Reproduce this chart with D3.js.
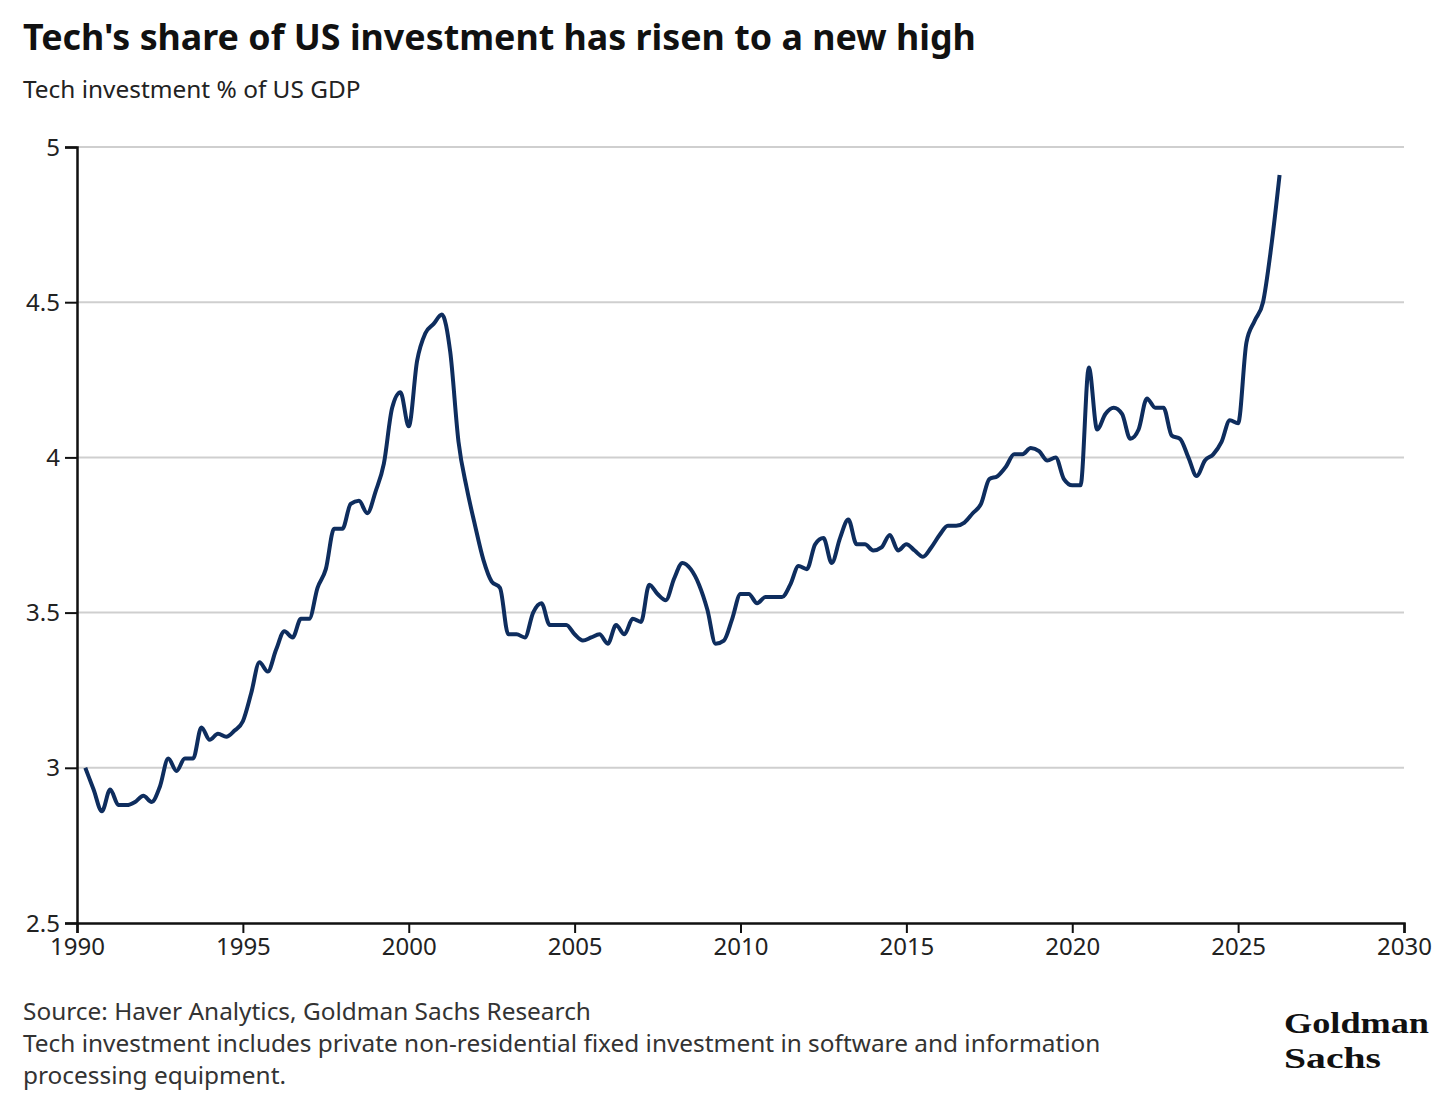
<!DOCTYPE html>
<html>
<head>
<meta charset="utf-8">
<script src="https://cdn.jsdelivr.net/npm/d3@7"></script>
<style>
  html, body { margin: 0; padding: 0; background: #fff; }
  svg text { font-family: "Noto Sans", "Open Sans", sans-serif; }
  .title { font-size: 35.8px; font-weight: 700; fill: #111; }
  .subtitle { font-size: 24.4px; fill: #222; }
  .tick-label { font-size: 24px; fill: #222; }
  .note { font-size: 24.4px; fill: #333; }
  .logo { font-family: "Liberation Serif", "DejaVu Serif", serif; font-size: 29px; font-weight: 700; fill: #111; }
</style>
</head>
<body>
<div id="chart"></div>
<script>
// ---- data (quarterly, first point 1990 Q1) ----
const startYear = 1990;
const techShare = [
  3.00, 2.93, 2.86, 2.93,
  2.88, 2.88, 2.89, 2.91,
  2.89, 2.94, 3.03, 2.99,
  3.03, 3.03, 3.13, 3.09,
  3.11, 3.10, 3.12, 3.15,
  3.24, 3.34, 3.31, 3.38,
  3.44, 3.42, 3.48, 3.48,
  3.58, 3.64, 3.77, 3.77,
  3.85, 3.86, 3.82, 3.89,
  3.98, 4.16, 4.21, 4.10,
  4.31, 4.40, 4.43, 4.46,
  4.34, 4.05, 3.90, 3.78,
  3.67, 3.60, 3.58, 3.43,
  3.43, 3.42, 3.50, 3.53,
  3.46, 3.46, 3.46, 3.43,
  3.41, 3.42, 3.43, 3.40,
  3.46, 3.43, 3.48, 3.47,
  3.59, 3.56, 3.54, 3.61,
  3.66, 3.64, 3.59, 3.51,
  3.40, 3.41, 3.48, 3.56,
  3.56, 3.53, 3.55, 3.55,
  3.55, 3.59, 3.65, 3.64,
  3.72, 3.74, 3.66, 3.74,
  3.80, 3.72, 3.72, 3.70,
  3.71, 3.75, 3.70, 3.72,
  3.70, 3.68, 3.71, 3.75,
  3.78, 3.78, 3.79, 3.82,
  3.85, 3.93, 3.94, 3.97,
  4.01, 4.01, 4.03, 4.02,
  3.99, 4.00, 3.93, 3.91,
  3.91, 4.29, 4.09, 4.14,
  4.16, 4.14, 4.06, 4.09,
  4.19, 4.16, 4.16, 4.07,
  4.06, 4.00, 3.94, 3.99,
  4.01, 4.05, 4.12, 4.11,
  4.37, 4.44, 4.50, 4.68,
  4.91
];
const xTicks = [1990, 1995, 2000, 2005, 2010, 2015, 2020, 2025, 2030];
const yTicks = [2.5, 3, 3.5, 4, 4.5, 5];

const titleText = "Tech's share of US investment has risen to a new high";
const subtitleText = "Tech investment % of US GDP";
const notes = [
  "Source: Haver Analytics, Goldman Sachs Research",
  "Tech investment includes private non-residential fixed investment in software and information",
  "processing equipment."
];
const logoLines = ["Goldman", "Sachs"];

// ---- layout ----
const W = 1456, H = 1111;
const margin = {top: 147, right: 52, bottom: 188, left: 77};
const width = W - margin.left - margin.right;
const height = H - margin.top - margin.bottom;

const svg = d3.select('#chart').append('svg')
  .attr('width', W).attr('height', H);

svg.append('text').attr('class', 'title').attr('x', 23).attr('y', 50).text(titleText);
svg.append('text').attr('class', 'subtitle').attr('x', 23).attr('y', 98).text(subtitleText);

const g = svg.append('g').attr('transform', `translate(${margin.left},${margin.top})`);

const x = d3.scaleLinear().domain([1990, 2030]).range([0, width]);
const y = d3.scaleLinear().domain([2.5, 5]).range([height, 0]);

// Gridlines
g.selectAll('.grid').data(yTicks.filter(t => t > 2.5)).join('line')
  .attr('x1', 0).attr('x2', width)
  .attr('y1', d => y(d)).attr('y2', d => y(d))
  .attr('stroke', '#cfcfcf').attr('stroke-width', 2);

// Y axis
const yAxis = g.append('g')
  .call(d3.axisLeft(y).tickValues(yTicks).tickSize(12).tickPadding(5).tickFormat(d3.format('')));
yAxis.select('.domain').attr('stroke', '#111').attr('stroke-width', 2.5);
yAxis.selectAll('.tick line').attr('stroke', '#111').attr('stroke-width', 2);
yAxis.selectAll('.tick text').attr('class', 'tick-label').attr('dy', '0.34em');

// X axis
const xAxis = g.append('g').attr('transform', `translate(0,${height})`)
  .call(d3.axisBottom(x).tickValues(xTicks).tickSize(10).tickPadding(5).tickFormat(d3.format('d')));
xAxis.select('.domain').attr('stroke', '#111').attr('stroke-width', 2.5);
xAxis.selectAll('.tick line').attr('stroke', '#111').attr('stroke-width', 2);
xAxis.selectAll('.tick text').attr('class', 'tick-label');

// Line
const line = d3.line()
  .x((d, i) => x(startYear + 0.25 * (i + 1)))
  .y(d => y(d))
  .curve(d3.curveMonotoneX);

g.append('path').datum(techShare)
  .attr('d', line)
  .attr('fill', 'none')
  .attr('stroke', '#0e2d5e')
  .attr('stroke-width', 4)
  .attr('stroke-linejoin', 'round')
  .attr('stroke-linecap', 'butt');

// Footer notes
notes.forEach((t, i) => {
  svg.append('text').attr('class', 'note').attr('x', 23).attr('y', 1020 + i * 32).text(t);
});

// Logo wordmark
logoLines.forEach((t, i) => {
  svg.append('text').attr('class', 'logo')
    .attr('x', 1284).attr('y', 1033 + i * 35)
    .attr('textLength', i === 0 ? 145 : 97)
    .attr('lengthAdjust', 'spacingAndGlyphs')
    .text(t);
});
</script>
</body>
</html>
